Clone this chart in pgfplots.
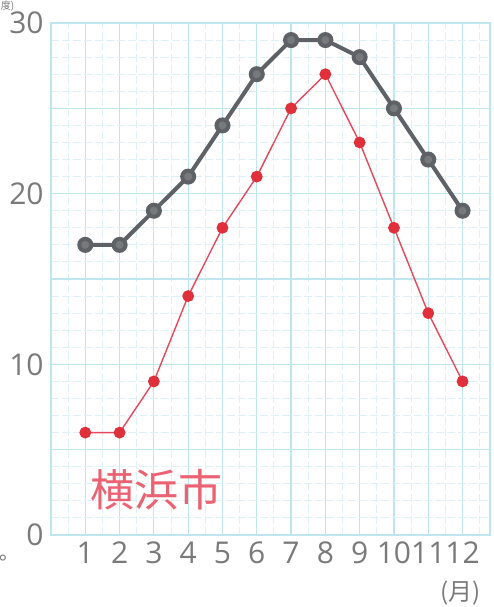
\documentclass[border=0pt]{standalone}
\usepackage{pgfplots}
\pgfplotsset{compat=1.18}
\usepackage{fontspec}
\setmainfont{Open Sans}
\newfontfamily\jp{Noto Sans CJK JP}
\definecolor{gridc}{HTML}{BFE5EF}
\definecolor{gridm}{HTML}{DDF1F6}
\definecolor{hi}{HTML}{5E6266}
\definecolor{lo}{HTML}{E8485A}
\definecolor{dot}{HTML}{E0303C}
\definecolor{ink}{HTML}{7A7A7A}
\begin{document}
\begin{tikzpicture}[x=1pt,y=1pt]
\path[use as bounding box] (-25.5,-36) rectangle (221.5,267.5);
\begin{axis}[
  at={(0,0)}, anchor=south west,
  scale only axis, width=219.5pt, height=256pt,
  xmin=0, xmax=12.8, ymin=0, ymax=30,
  xtick={1,...,12},
  ytick={0,5,...,30}, yticklabels={0,,10,,20,,30},
  minor xtick={0.5,1.5,...,12.5},
  minor ytick={1,...,29},
  grid=both,
  major grid style={gridc, line width=0.6pt},
  minor grid style={gridm, line width=0.5pt, dash pattern=on 4pt off 1.5pt},
  axis line style={gridc, line width=0.8pt},
  major tick length=0pt, minor tick length=0pt,
  tick label style={font=\fontsize{15}{15}\selectfont, text=ink},
  yticklabel style={inner sep=0.5pt, xshift=-3pt},
  /pgf/number format/assume math mode=true,
  clip=false,
]
\addplot[hi, line width=2pt, mark=*, mark size=3pt, mark options={fill=hi!85!white, draw=hi}] coordinates {
  (1,17) (2,17) (3,19) (4,21) (5,24) (6,27) (7,29) (8,29) (9,28) (10,25) (11,22) (12,19)
};
\addplot[lo, line width=0.7pt, mark=*, mark size=2.6pt, mark options={fill=dot, draw=dot}] coordinates {
  (1,6) (2,6) (3,9) (4,14) (5,18) (6,21) (7,25) (8,27) (9,23) (10,18) (11,13) (12,9)
};
\node[text=lo!85!white, font=\jp\fontsize{22}{22}\selectfont] at (axis cs:3.08,2.64) {横浜市};
\node[text=ink, font=\jp\fontsize{12}{12}\selectfont] at (axis cs:11.95,-3.4) {(月)};
\node[text=ink, font=\jp\fontsize{5}{5}\selectfont, anchor=north west, inner sep=0pt] at (axis cs:-1.47,31.33) {度)};
\node[text=ink, font=\fontsize{10}{10}\selectfont] at (axis cs:-1.4,-1.6) {°};
\end{axis}
\end{tikzpicture}
\end{document}
